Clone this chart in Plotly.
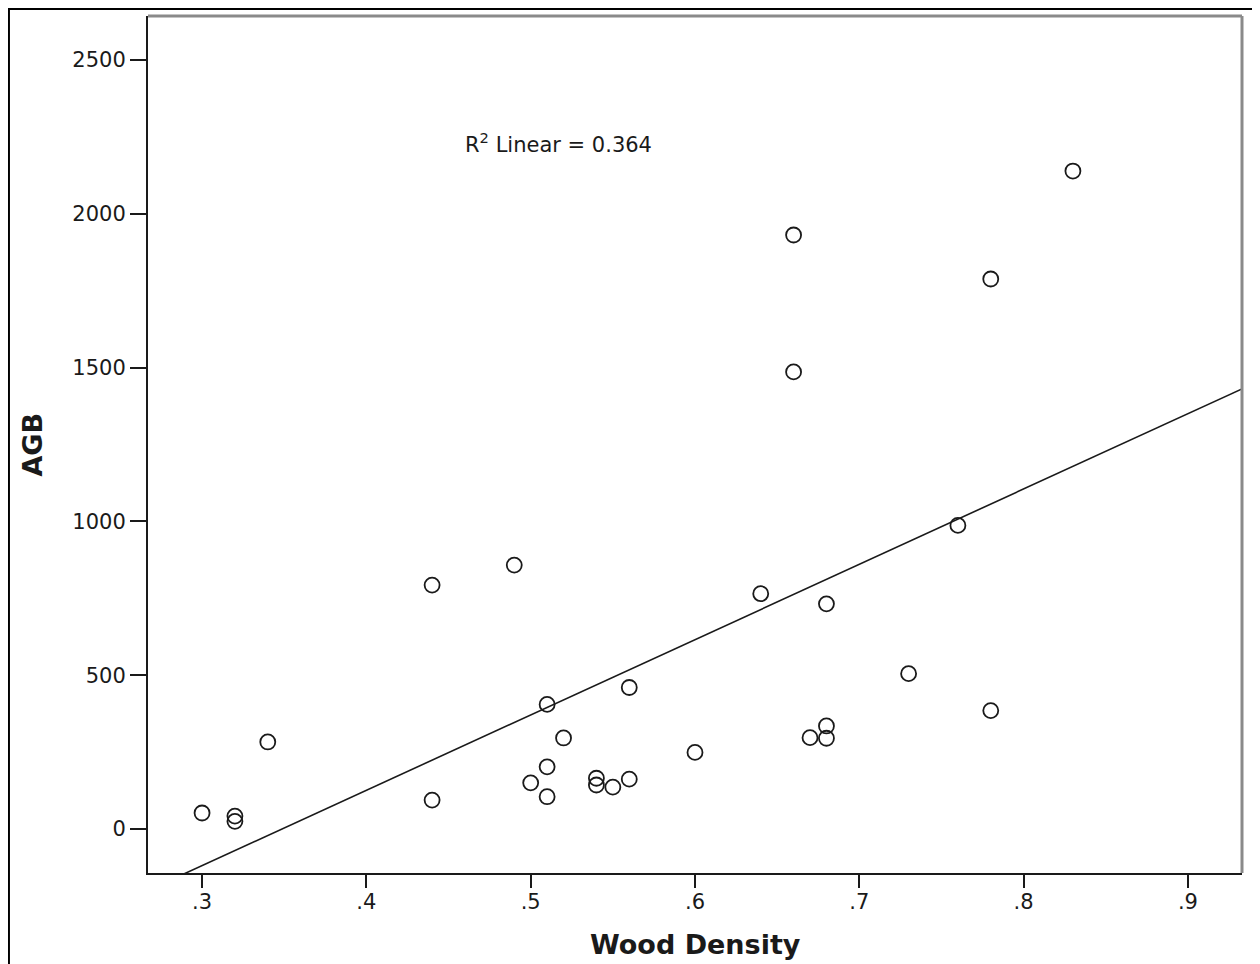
import numpy as np
import plotly.graph_objects as go

# Data
wood_density = [0.30, 0.32, 0.32, 0.34, 0.44, 0.44, 0.49, 0.50, 0.51, 0.51,
                0.51, 0.52, 0.54, 0.54, 0.55, 0.56, 0.56, 0.60, 0.64, 0.66,
                0.66, 0.67, 0.68, 0.68, 0.68, 0.73, 0.76, 0.78, 0.78, 0.83]
agb = [52, 42, 25, 283, 793, 94, 858, 150, 405, 202,
       105, 296, 165, 143, 136, 460, 162, 249, 765, 1931,
       1486, 297, 732, 335, 295, 505, 987, 1788, 385, 2139]
x_tickvals = [0.3, 0.4, 0.5, 0.6, 0.7, 0.8, 0.9]
x_ticktext = [".3", ".4", ".5", ".6", ".7", ".8", ".9"]
y_tickvals = [0, 500, 1000, 1500, 2000, 2500]
r2_label = "R<sup>2</sup> Linear = 0.364"

x_range = [0.2671, 0.9329]
y_range = [-143, 2643]

slope, intercept = np.polyfit(wood_density, agb, 1)
fit_x = np.array(x_range)
fit_y = slope * fit_x + intercept

FONT = "DejaVu Sans, Liberation Sans, Arial, sans-serif"

fig = go.Figure()
fig.add_trace(go.Scatter(
    x=wood_density, y=agb, mode="markers",
    marker=dict(symbol="circle-open", size=15, color="#1a1a1a",
                line=dict(width=1.8, color="#1a1a1a")),
    showlegend=False, hoverinfo="x+y"))
fig.add_trace(go.Scatter(
    x=fit_x, y=fit_y, mode="lines",
    line=dict(color="#1a1a1a", width=1.6),
    showlegend=False, hoverinfo="skip"))

fig.update_layout(
    width=1252, height=956,
    margin=dict(l=140, r=18, t=8, b=91),
    paper_bgcolor="white", plot_bgcolor="white",
    font=dict(family=FONT, color="#1a1a1a", size=21),
    xaxis=dict(range=x_range, tickvals=x_tickvals, ticktext=x_ticktext,
               showgrid=False, zeroline=False, showline=True,
               linecolor="#1a1a1a", linewidth=2, ticks="outside",
               ticklen=13, tickwidth=2, tickcolor="#1a1a1a",
               ticklabelstandoff=-4,
               tickfont=dict(size=21, family=FONT)),
    yaxis=dict(range=y_range, tickvals=y_tickvals,
               showgrid=False, zeroline=False, showline=True,
               linecolor="#1a1a1a", linewidth=2, ticks="outside",
               ticklen=16, tickwidth=2, tickcolor="#1a1a1a",
               tickfont=dict(size=21, family=FONT)),
    shapes=[
        # top and right plot-area borders (grey)
        dict(type="line", xref="paper", yref="paper", x0=0, x1=1, y0=1, y1=1,
             line=dict(color="#8a8a8a", width=3)),
        dict(type="line", xref="paper", yref="paper", x0=1, x1=1, y0=0, y1=1,
             line=dict(color="#8a8a8a", width=3)),
        # outer frame
        dict(type="rect", xref="paper", yref="paper",
             x0=-0.1271, x1=1.0119, y0=-0.2, y1=1.0082,
             line=dict(color="black", width=2), layer="below"),
    ],
    annotations=[
        dict(text=r2_label, xref="x", yref="y", x=0.4588, y=2230,
             xanchor="left", yanchor="middle", showarrow=False,
             font=dict(size=21, family=FONT)),
        dict(text="<b>Wood Density</b>", xref="paper", yref="paper",
             x=0.5, y=-0.083, xanchor="center", yanchor="middle",
             showarrow=False, font=dict(size=27, family=FONT)),
        dict(text="<b>AGB</b>", xref="paper", yref="paper",
             x=-0.106, y=0.5, xanchor="center", yanchor="middle",
             textangle=-90, showarrow=False, font=dict(size=27, family=FONT)),
    ],
)

fig.write_html("out.html")
